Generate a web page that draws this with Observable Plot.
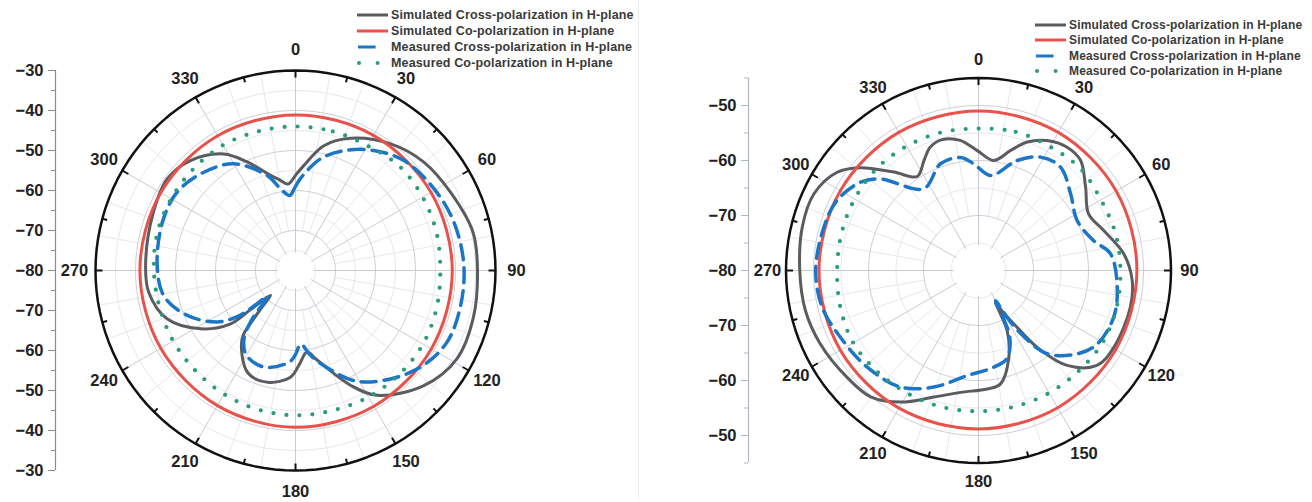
<!DOCTYPE html>
<html><head><meta charset="utf-8">
<script src="https://cdn.jsdelivr.net/npm/d3@7"></script>
<script src="https://cdn.jsdelivr.net/npm/@observablehq/plot@0.6"></script>
<style>
body{margin:0;background:#fff;}
#root{position:relative;width:1312px;height:502px;overflow:hidden;font-family:"Liberation Sans",Arial,sans-serif;background:#fff;}
.panel{position:absolute;top:0;}
.sep{position:absolute;left:638px;top:0;width:1px;height:499px;background:#ececec;}
.legend{position:absolute;font-weight:bold;color:#3a3a3a;}
.legend .row{display:flex;align-items:center;white-space:nowrap;}
.legend svg{flex:none;}
</style></head><body><div id="root"></div>
<script>
// ---------- data ----------
const angleLabels = [0, 30, 60, 90, 120, 150, 180, 210, 240, 270, 300, 330];
const legendLabels = [
  "Simulated Cross-polarization in H-plane",
  "Simulated Co-polarization in H-plane",
  "Measured Cross-polarization in H-plane",
  "Measured Co-polarization in H-plane"
];
const leftDbTicks = [-30, -40, -50, -60, -70, -80];
const rightDbTicks = [-50, -60, -70, -80];

// [angle (deg), level (dB)]
const leftSimCross = [[355,-58.3],[0.2,-56.1],[4.5,-53.7],[12.8,-48],[22.6,-44.2],[36.9,-40.4],[49.8,-38],[63.2,-36.6],[77.9,-34.6],[90,-34.5],[105,-34],[118.6,-34],[131.9,-36.9],[146.8,-42.7],[154.4,-48.2],[163.4,-55.2],[167,-57.3],[172,-59.4],[177.8,-56.4],[182.7,-53.3],[194,-51.2],[205,-51.8],[218,-58.3],[220.8,-64],[222.5,-67.6],[225,-71.2],[229,-65],[230.6,-59],[238.4,-52.2],[249.4,-45.7],[261.6,-42.9],[272,-42.5],[291,-41.7],[305.5,-40.6],[316.3,-42],[328.4,-45.8],[336,-50.3],[345.3,-55.4],[349.8,-56.9]];
const leftSimCo = [[0,-41.1],[30,-41],[60,-40.9],[90,-40.8],[120,-40.8],[150,-40.8],[180,-40.8],[210,-41],[240,-41.1],[270,-41.1],[300,-41.1],[330,-41.1]];
const leftMeasCross = [[355.7,-61.2],[359.5,-59.3],[3,-57],[12.6,-51.4],[22,-47.7],[33,-44.2],[44.6,-41.4],[59.4,-39.8],[73,-38.6],[88,-37.9],[102,-37.8],[115.3,-38.1],[127.7,-40.5],[141,-44.7],[152,-48.8],[163.4,-55.2],[170,-58.5],[176,-61.5],[180,-59],[184,-57],[198,-54.6],[210,-55.5],[217,-58.6],[222,-64],[227,-70.5],[230,-64.5],[232,-61],[236.6,-56.6],[247.5,-50.7],[259,-46.5],[272,-45.4],[290,-44.6],[303.5,-44.5],[317,-46.4],[330,-49.2],[343.4,-55.2],[350.5,-59.7]];
const leftMeasCo = [[0,-44],[15,-44],[30,-44],[45,-43.2],[60,-43.3],[75,-43.5],[90,-43.8],[105,-43.5],[120,-43.2],[135,-43.3],[150,-43.5],[165,-43.8],[180,-43.8],[195,-44],[210,-44.3],[225,-44.6],[240,-44.7],[255,-44.8],[270,-44.6],[285,-44.2],[300,-44.1],[315,-44],[330,-43.8],[345,-44]];

const rightSimCross = [[7.9,-59.8],[15,-57.4],[20.8,-55],[27.8,-53.3],[35.7,-52.4],[42.8,-52.7],[52,-55.3],[62.8,-57.5],[72.3,-56.1],[83.5,-53.4],[93.7,-52],[103.6,-51.6],[119.5,-51.7],[128.7,-52.4],[137,-56.4],[142.6,-62.4],[146.5,-68.4],[149.5,-71],[151.8,-73.5],[153.3,-70.8],[154.5,-67.9],[160.7,-63.3],[169,-59],[175.8,-58.4],[188.4,-57.6],[199.4,-55.6],[210.6,-52.2],[220.5,-49.8],[231,-49.2],[245,-48.3],[257,-47.7],[270,-47.5],[283.8,-47],[295,-47],[304.8,-48.7],[311,-51.5],[319.3,-56.4],[326.9,-59.6],[333.6,-57.7],[338.7,-55.9],[344.5,-55.3],[352,-56.1],[359.4,-58.2]];
const rightSimCo = [[0,-51],[30,-51],[60,-51.1],[90,-51.2],[120,-51.2],[150,-51.2],[180,-51.2],[210,-51.1],[240,-51],[270,-51],[300,-51],[330,-51]];
const rightMeasCross = [[7.2,-62.6],[19.4,-58.8],[28.7,-56.5],[38.4,-56],[50.2,-58.2],[63,-59.9],[75.4,-58.4],[82.8,-55.8],[96.8,-54.6],[109,-54],[121.7,-54.6],[130.2,-56.5],[140.5,-60.4],[146,-66],[148.5,-70],[150.5,-73.7],[152.5,-70],[155,-66.5],[162,-63.2],[171,-62.2],[186,-60.8],[201,-57.3],[213.8,-54.5],[229,-53.2],[244.2,-52.1],[256.8,-50.8],[270,-50.4],[285.7,-50.8],[296.3,-51.3],[306.8,-53.2],[313,-55.6],[326.2,-62.1],[340.4,-59.4],[351,-59.2],[357.5,-60.6]];
const rightMeasCo = [[0,-54.2],[15,-53.9],[30,-54],[45,-53.8],[60,-54.3],[75,-54.2],[90,-54.2],[105,-54],[120,-53.9],[135,-54.2],[150,-54.3],[165,-54.4],[180,-54.4],[195,-54.3],[210,-54.2],[225,-54],[240,-53.7],[255,-54],[270,-54.3],[285,-54.2],[300,-54],[315,-53.8],[330,-53.9],[345,-54]];

// ---------- styles ----------
const seriesStyles = [
  {stroke: "#5a5c5f", strokeWidth: 3},
  {stroke: "#e8524b", strokeWidth: 3},
  {stroke: "#1c76c8", strokeWidth: 3.5, strokeDasharray: "15 8"},
  {stroke: "#2a9c7c", strokeWidth: 4.2, strokeDasharray: "0 13", strokeLinecap: "round"}
];

const rad = a => a * Math.PI / 180;
const pol = (a, r) => ({x: r * Math.sin(rad(a)), y: r * Math.cos(rad(a))});

function polarPanel(cfg) {
  const {base, outer, pxPerDb, cx, cy, width, height, axisLeft, dbTicks, series, labelRpx, holePx, axisStroke} = cfg;
  const R = outer - base;
  const u = 1 / pxPerDb;
  const ring = rs => rs.flatMap(r => d3.range(0, 361, 3).map(a => ({r, ...pol(a, r)})));
  const majorRings = d3.range(10, R - 0.01, 10);
  const minorRings = d3.range(5, R - 0.01, 10);
  const spoke = (angles, r0, r1) => angles.map(a => {
    const p = pol(a, r0), q = pol(a, r1);
    return {x1: p.x, y1: p.y, x2: q.x, y2: q.y};
  });
  const faintAngles = d3.range(0, 360, 10).filter(a => a % 30 !== 0);
  const tickAngles = d3.range(0, 360, 15);
  const ticks = tickAngles.map(a => {
    const len = (a % 30 === 0 ? 7 : 5) * u;
    const p = pol(a, R), q = pol(a, R - len);
    return {x1: p.x, y1: p.y, x2: q.x, y2: q.y};
  });
  const yMajor = dbTicks.flatMap(d => { const r = d - base; return r === 0 ? [0] : [r, -r]; });
  const yMinor = d3.range(-R, R + 0.01, 5).filter(v => !yMajor.includes(v));
  const fmt = v => String(base + Math.abs(v)).replace("-", "\u2212");
  const lineMarks = series.map((s, i) =>
    Plot.line(s.map(([a, db]) => pol(a, db - base)), {x: "x", y: "y", curve: "catmull-rom-closed", ...seriesStyles[i]}));
  const Rpx = R * pxPerDb;
  return Plot.plot({
    width, height,
    marginLeft: axisLeft, marginTop: cy - Rpx, marginBottom: height - (cy + Rpx), marginRight: 10,
    x: {domain: [-R, R], range: [cx - Rpx, cx + Rpx], axis: null},
    y: {domain: [-R, R], range: [cy + Rpx, cy - Rpx]},
    style: {fontFamily: "'Liberation Sans', Arial, sans-serif", fontWeight: "bold", fontSize: "16.5px", color: "#222", background: "transparent", overflow: "visible"},
    marks: [
      Plot.line(ring(minorRings), {x: "x", y: "y", z: "r", stroke: "#e6e8ee", strokeWidth: 1}),
      Plot.link(spoke(faintAngles, 10, R), {x1: "x1", y1: "y1", x2: "x2", y2: "y2", stroke: "#e6e8ee", strokeWidth: 1}),
      Plot.line(ring(majorRings), {x: "x", y: "y", z: "r", stroke: "#cdcfd7", strokeWidth: 1}),
      Plot.link(spoke(angleLabels, holePx * u, R), {x1: "x1", y1: "y1", x2: "x2", y2: "y2", stroke: "#c9cbd3", strokeWidth: 1}),
      ...lineMarks,
      Plot.line(ring([R]), {x: "x", y: "y", stroke: "#111", strokeWidth: 2.5}),
      Plot.link(ticks, {x1: "x1", y1: "y1", x2: "x2", y2: "y2", stroke: "#111", strokeWidth: 2}),
      Plot.text(angleLabels, {x: a => pol(a, labelRpx * u).x, y: a => pol(a, labelRpx * u).y, text: a => String(a), fill: "#222", fontSize: 16.5, fontWeight: "bold"}),
      Plot.ruleX([-R - (cx - Rpx - axisLeft) * u], {y1: -R, y2: R, stroke: axisStroke, strokeWidth: 1.2}),
      Plot.axisY({anchor: "left", ticks: yMajor, tickFormat: fmt, tickSize: 7, tickPadding: 5, stroke: axisStroke, fill: "#222", label: null, fontSize: 16.5, fontWeight: "bold"}),
      Plot.axisY({anchor: "left", ticks: yMinor, tickFormat: () => "", tickSize: 4, stroke: axisStroke, label: null})
    ]
  });
}

function legend(left, top, rowH, fontSize, sampleW) {
  const div = document.createElement("div");
  div.className = "legend";
  div.style.left = left + "px";
  div.style.top = top + "px";
  div.style.fontSize = fontSize + "px";
  div.style.letterSpacing = "0.15px";
  legendLabels.forEach((lab, i) => {
    const row = document.createElement("div");
    row.className = "row";
    row.style.height = rowH + "px";
    const s = seriesStyles[i];
    const ns = "http://www.w3.org/2000/svg";
    const svg = document.createElementNS(ns, "svg");
    svg.setAttribute("width", sampleW + 2);
    svg.setAttribute("height", 10);
    const ln = document.createElementNS(ns, "line");
    ln.setAttribute("y1", 5); ln.setAttribute("y2", 5);
    if (i === 2) { ln.setAttribute("x1", 1); ln.setAttribute("x2", sampleW * 0.6); }
    else if (i === 3) { ln.setAttribute("x1", 2); ln.setAttribute("x2", sampleW); ln.setAttribute("stroke-dasharray", "0 " + (sampleW * 0.6)); ln.setAttribute("stroke-linecap", "round"); }
    else { ln.setAttribute("x1", 0); ln.setAttribute("x2", sampleW); }
    ln.setAttribute("stroke", s.stroke);
    ln.setAttribute("stroke-width", i === 3 ? 4 : 3);
    svg.appendChild(ln);
    const t = document.createElement("span");
    t.textContent = lab;
    t.style.marginLeft = "1px";
    row.appendChild(svg);
    row.appendChild(t);
    div.appendChild(row);
  });
  return div;
}

const root = document.getElementById("root");
const sep = document.createElement("div"); sep.className = "sep"; root.appendChild(sep);

const left = polarPanel({base: -80, outer: -30, pxPerDb: 4, cx: 295, cy: 270, width: 640, height: 502, axisLeft: 55,
  dbTicks: leftDbTicks, series: [leftSimCross, leftSimCo, leftMeasCross, leftMeasCo], labelRpx: 221, holePx: 18, axisStroke: "#8c8c8c"});
left.classList.add("panel"); left.style.left = "0px";
root.appendChild(left);

const right = polarPanel({base: -80, outer: -45, pxPerDb: 5.5, cx: 338, cy: 270, width: 672, height: 502, axisLeft: 108,
  dbTicks: rightDbTicks, series: [rightSimCross, rightSimCo, rightMeasCross, rightMeasCo], labelRpx: 211, holePx: 25, axisStroke: "#b3b7c4"});
right.classList.add("panel"); right.style.left = "640px";
root.appendChild(right);

root.appendChild(legend(357, 7, 16, 12.5, 31));
root.appendChild(legend(1035, 17, 15.5, 12, 31));
</script></body></html>
